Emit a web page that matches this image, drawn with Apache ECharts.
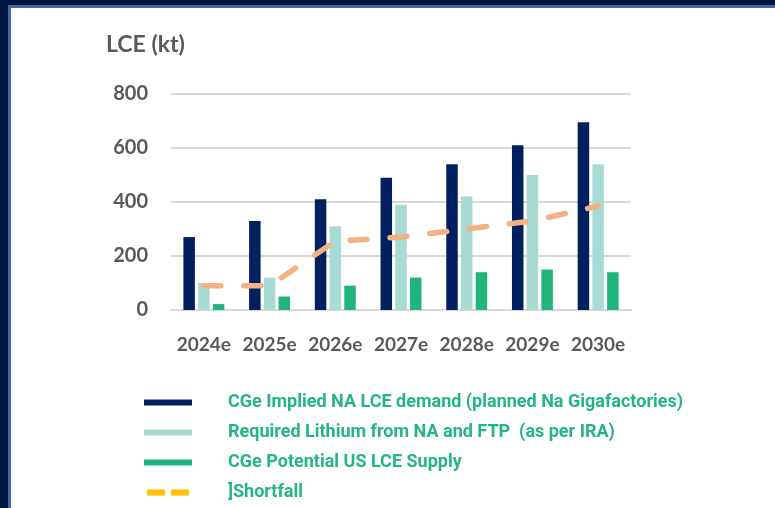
<!DOCTYPE html>
<html>
<head>
<meta charset="utf-8">
<script src="https://cdn.jsdelivr.net/npm/echarts@6/dist/echarts.min.js"></script>
<style>
  html, body { margin: 0; padding: 0; background: #ffffff; }
  #wrap { position: relative; width: 775px; height: 508px; overflow: hidden; background: #fff; }
  #chart { position: absolute; left: 0; top: 0; width: 775px; height: 508px; }
  .b { position: absolute; }
</style>
</head>
<body>
<div id="wrap">
  <div id="chart"></div>
  <div class="b" style="left:0;top:0;width:775px;height:5px;background:#001540;"></div>
  <div class="b" style="left:0;top:5px;width:775px;height:2.5px;background:#4668A8;"></div>
  <div class="b" style="left:0;top:0;width:7.5px;height:508px;background:#001540;"></div>
  <div class="b" style="left:7.5px;top:5px;width:3px;height:503px;background:#4668A8;"></div>
</div>
<script>
const categories = ['2024e', '2025e', '2026e', '2027e', '2028e', '2029e', '2030e'];
const demand = [270, 330, 410, 490, 540, 610, 695];
const required = [100, 120, 310, 390, 420, 500, 540];
const supply = [22, 50, 90, 120, 140, 150, 140];
const shortfall = [90, 90, 255, 270, 300, 330, 385];
const seriesNames = [
  'CGe Implied NA LCE demand (planned Na Gigafactories)',
  'Required Lithium from NA and FTP  (as per IRA)',
  'CGe Potential US LCE Supply',
  ']Shortfall'
];
const yTicks = { min: 0, max: 800, interval: 200 };

const chart = echarts.init(document.getElementById('chart'), null, { renderer: 'canvas' });
const gray = '#595959';
const green = '#22B77E';
const option = {
  animation: false,
  backgroundColor: 'transparent',
  title: {
    text: 'LCE (kt)',
    left: 101,
    top: 28,
    textStyle: { fontFamily: 'Lato', fontWeight: 'bold', fontSize: 23, color: gray }
  },
  grid: { left: 171, right: 144, top: 94, bottom: 198, containLabel: false },
  legend: {
    orient: 'vertical',
    left: 144,
    top: 392,
    padding: 0,
    height: 116,
    itemWidth: 48,
    itemHeight: 6,
    itemGap: 9,
    selectedMode: false,
    textStyle: {
      fontFamily: 'Roboto', fontWeight: 'bold', fontSize: 18, color: green,
      lineHeight: 21, padding: [0, 0, 0, 31]
    },
    data: [
      { name: seriesNames[0], icon: 'rect', itemStyle: { color: '#002060' } },
      { name: seriesNames[1], icon: 'rect', itemStyle: { color: '#A8DBD4' } },
      { name: seriesNames[2], icon: 'rect', itemStyle: { color: '#20B57C' } },
      { name: seriesNames[3], icon: 'path://M0,0h18v6h-18z M24,0h18v6h-18z', itemStyle: { color: '#FFC000' } }
    ]
  },
  xAxis: {
    type: 'category',
    data: categories,
    axisLine: { show: true, lineStyle: { color: '#D9D9D9', width: 2 } },
    axisTick: { show: false },
    axisLabel: { interval: 0, margin: 25, fontFamily: 'Lato', fontWeight: 'bold', fontSize: 19, color: gray }
  },
  yAxis: {
    type: 'value',
    min: yTicks.min, max: yTicks.max, interval: yTicks.interval,
    axisLine: { show: false },
    axisTick: { show: false },
    splitLine: { lineStyle: { color: '#D9D9D9', width: 2 } },
    axisLabel: { margin: 23, fontFamily: 'Lato', fontWeight: 'bold', fontSize: 20, color: gray }
  },
  series: [
    { name: seriesNames[0], type: 'bar', data: demand, barWidth: 11.5, barGap: '28%',
      itemStyle: { color: '#002060' } },
    { name: seriesNames[1], type: 'bar', data: required, barWidth: 11.5, barGap: '28%',
      itemStyle: { color: '#A8DBD4' } },
    { name: seriesNames[2], type: 'bar', data: supply, barWidth: 11.5, barGap: '28%',
      itemStyle: { color: '#20B57C' } },
    { name: seriesNames[3], type: 'line', data: shortfall, symbol: 'none', z: 5,
      lineStyle: { color: '#F4B183', width: 5.5, type: [17, 23], cap: 'round' } }
  ]
};
chart.setOption(option);
</script>
</body>
</html>
